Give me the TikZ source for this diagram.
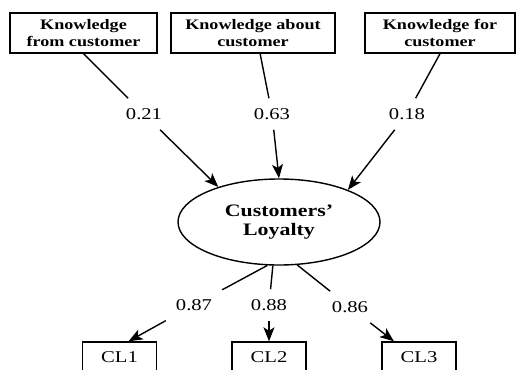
\documentclass[tikz,border=0pt]{standalone}
\usepackage{fontspec}
\setmainfont{Liberation Serif}[FakeStretch=1.25]
\usepackage{tikz}
\usetikzlibrary{shapes.geometric, arrows.meta, positioning}
\tikzstyle{source} = [rectangle, minimum height=40pt, inner sep=0pt, align=center, draw=black, line width=1.4pt, font=\bfseries\fontsize{14.5}{17}\selectfont]
\tikzstyle{latent} = [ellipse, minimum width=202pt, minimum height=86pt, inner sep=0pt, align=center, draw=black, line width=1.4pt, font=\bfseries\fontsize{17.5}{19}\selectfont]
\tikzstyle{coef} = [inner sep=10pt, font=\fontsize{16.5}{18}\selectfont]
\tikzstyle{indicator} = [rectangle, minimum width=74pt, minimum height=30pt, inner sep=0pt, draw=black, line width=1.4pt, font=\fontsize{16.5}{18}\selectfont]
\tikzstyle{line} = [line width=1.4pt]
\tikzstyle{arrow} = [line width=1.4pt, -{Stealth[length=14pt, width=11pt, inset=3.5pt]}]

\begin{document}
\begin{tikzpicture}
        \useasboundingbox (0,0) rectangle (518pt,-369pt);
        \clip (0,0) rectangle (518pt,-369pt);
        % Row 1
        \node (kfrom) [source, minimum width=147pt] at (83.5pt,-33pt) {Knowledge\\from customer};
        \node (kabout) [source, minimum width=164pt, node distance=169.5pt, right of=kfrom] {Knowledge about\\customer};
        \node (kfor) [source, minimum width=150pt, node distance=187pt, right of=kabout] {Knowledge for\\customer};
        
        % Path coefficients
        \node (pfrom) [coef, node distance=81pt, below of=kfrom, xshift=60.5pt] {0.21};
        \node (pabout) [coef, node distance=81pt, below of=kabout, xshift=19pt] {0.63};
        \node (pfor) [coef, node distance=81pt, below of=kfor, xshift=-33pt] {0.18};
        
        % Latent
        \node (loyal) [latent, node distance=108pt, below of=pabout, xshift=7pt] {Customers'\\Loyalty};
        
        % Loadings
        \node (lcl2) [coef, node distance=83pt, below of=loyal, xshift=-10pt] {0.88};
        \node (lcl1) [coef, node distance=75pt, left of=lcl2] {0.87};
        \node (lcl3) [coef, node distance=81pt, right of=lcl2, yshift=-2pt] {0.86};
        
        % Row 3
        \node (cl2) [indicator, node distance=52pt, below of=lcl2] {CL2};
        \node (cl1) [indicator, node distance=52pt, below of=lcl1, xshift=-74.5pt] {CL1};
        \node (cl3) [indicator, node distance=50pt, below of=lcl3, xshift=69pt] {CL3};
        
        % Arrows
        \draw [line] (kfrom.south) -- (pfrom);
        \draw [arrow] (pfrom) -- (loyal.150);
        \draw [line] (kabout.289) -- (pabout);
        \draw [arrow] (pabout) -- (loyal.north);
        \draw [line] (kfor.south) -- (pfor);
        \draw [arrow] (pfor) -- (loyal.25);
        \draw [line] (loyal.255) -- (lcl1);
        \draw [arrow] (lcl1) -- (cl1.60);
        \draw [line] (loyal.262) -- (lcl2);
        \draw [arrow] (lcl2) -- (cl2.north);
        \draw [line] (loyal.293) -- (lcl3);
        \draw [arrow] (lcl3) -- (cl3.148);
    \end{tikzpicture}
\end{document}
